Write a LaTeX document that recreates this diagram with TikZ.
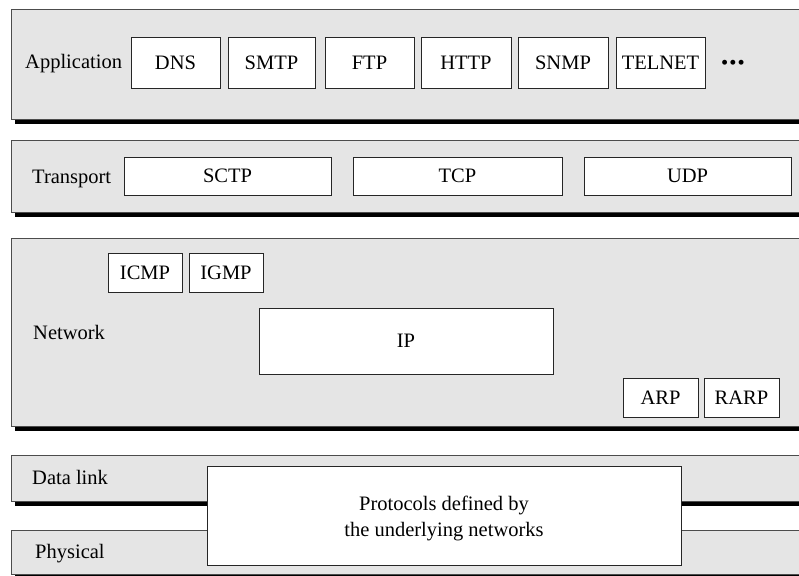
\documentclass[tikz,border=0pt]{standalone}
\usepackage{fontspec}
\setmainfont{Liberation Serif}
\usetikzlibrary{shadows}
\begin{document}
\begin{tikzpicture}[x=1pt,y=-1pt,
  every node/.style={font=\fontsize{20.5}{26}\selectfont, inner sep=0pt},
  band/.style={draw=black!70, fill=black!10, line width=0.8pt, minimum width=820pt,
    drop shadow={shadow xshift=4pt, shadow yshift=-4.5pt, opacity=1, fill=black}},
  pbox/.style={draw=black!85, fill=white, line width=0.9pt},
  lbl/.style={anchor=base west}
]
\useasboundingbox (0,0) rectangle (799,575);
\clip (0,0) rectangle (799,575);
% Application
\node[band, minimum height=110pt] (app) at (421,64) {};
\node[lbl] (appl) at (25,69) {Application};
\node[pbox, minimum width=89pt, minimum height=51pt] (dns) at (175.5,62.5) {DNS};
\node[pbox, minimum width=87pt, minimum height=51pt] (smtp) at (271.5,62.5) {SMTP};
\node[pbox, minimum width=89pt, minimum height=51pt] (ftp) at (369.5,62.5) {FTP};
\node[pbox, minimum width=90pt, minimum height=51pt] (http) at (466,62.5) {HTTP};
\node[pbox, minimum width=90pt, minimum height=51pt] (snmp) at (563,62.5) {SNMP};
\node[pbox, minimum width=89pt, minimum height=51pt] (telnet) at (660.5,62.5) {TELNET};
\node[lbl] (dots) at (721,69.5) {\textbullet\kern1pt\textbullet\kern1pt\textbullet};
% Transport
\node[band, minimum height=72pt] (trans) at (421,176) {};
\node[lbl] (transl) at (32,183) {Transport};
\node[pbox, minimum width=207pt, minimum height=38pt] (sctp) at (227.5,176) {SCTP};
\node[pbox, minimum width=209pt, minimum height=38pt] (tcp) at (457.5,176) {TCP};
\node[pbox, minimum width=207pt, minimum height=38pt] (udp) at (687.5,176) {UDP};
% Network
\node[band, minimum height=188pt] (net) at (421,332) {};
\node[lbl] (netl) at (33,339.5) {Network};
\node[pbox, minimum width=74pt, minimum height=39pt] (icmp) at (145,272.5) {ICMP};
\node[pbox, minimum width=74pt, minimum height=39pt] (igmp) at (226,272.5) {IGMP};
\node[pbox, minimum width=294pt, minimum height=66pt] (ip) at (406,341) {IP};
\node[pbox, minimum width=75pt, minimum height=39pt] (arp) at (660.5,397.5) {ARP};
\node[pbox, minimum width=75pt, minimum height=39pt] (rarp) at (741.5,397.5) {RARP};
% Data link and Physical
\node[band, minimum height=46pt] (dl) at (421,478) {};
\node[lbl] (dll) at (32,484.5) {Data link};
\node[band, minimum height=44pt] (phy) at (421,552) {};
\node[lbl] (phyl) at (35,558.5) {Physical};
\node[pbox, minimum width=474pt, minimum height=99pt] (under) at (444,515.5) {};
\node[align=center] (undertext) at (444,518) {Protocols defined by\\the underlying networks};
\end{tikzpicture}
\end{document}
